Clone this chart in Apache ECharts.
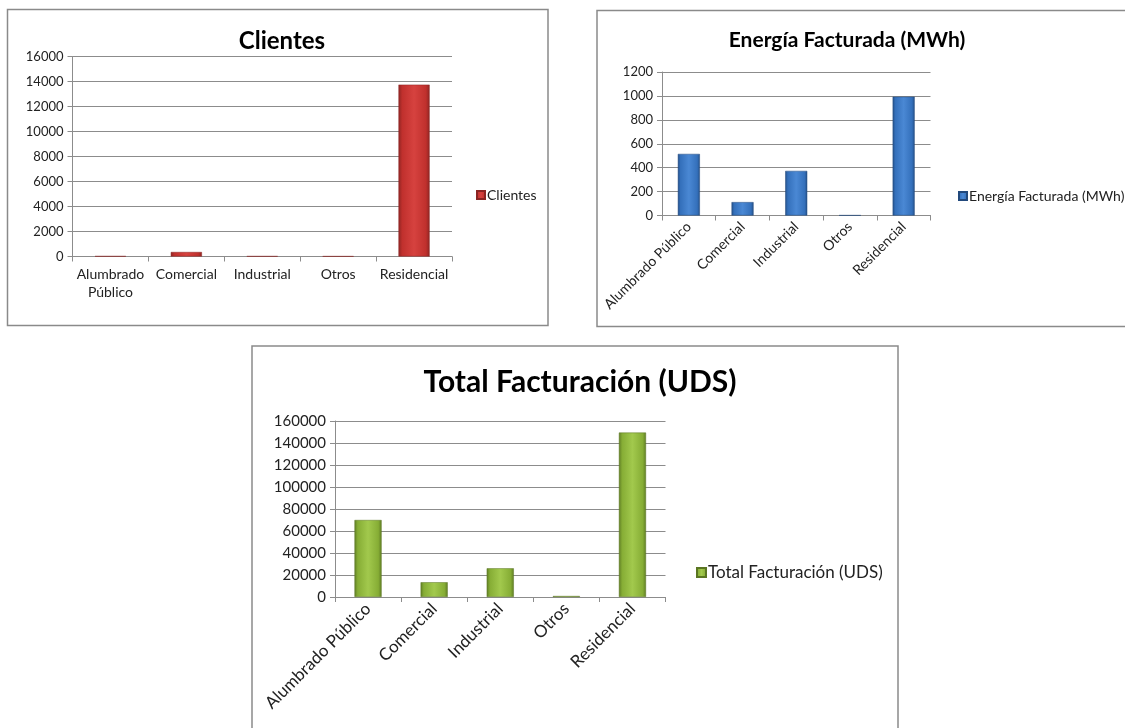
<!DOCTYPE html>
<html>
<head>
<meta charset="utf-8">
<script src="https://cdn.jsdelivr.net/npm/echarts@6/dist/echarts.min.js"></script>
<style>
html,body{margin:0;padding:0;background:#fff;}
#c{width:1125px;height:728px;}
</style>
</head>
<body>
<div id="c"></div>
<script>
const categories = ["Alumbrado Público", "Comercial", "Industrial", "Otros", "Residencial"];
const clientes = [30, 360, 25, 20, 13750];
const energia = [515, 112, 373, 2, 994];
const facturacion = [70000, 13400, 26100, 900, 149500];
const names = ["Clientes", "Energía Facturada (MWh)", "Total Facturación (UDS)"];

const FONT = "Lato, 'Noto Sans', sans-serif";
const GRID = '#8c8c8c';

function grad(dark, mid, light) {
  return new echarts.graphic.LinearGradient(0, 0, 1, 0, [
    {offset: 0, color: dark},
    {offset: 0.12, color: mid},
    {offset: 0.5, color: light},
    {offset: 0.88, color: mid},
    {offset: 1, color: dark}
  ]);
}
const red = grad('#8f2523', '#c0302d', '#d6423f');
const blue = grad('#244f86', '#3470bb', '#4a88d4');
const green = grad('#5f7d24', '#86ad35', '#a2c94d');

function xAxis(idx, fs, rot, fmt) {
  return {
    type: 'category', gridIndex: idx, data: categories,
    axisLine: {lineStyle: {color: GRID, width: 1}},
    axisTick: {show: true, length: 5, alignWithLabel: false, lineStyle: {color: GRID}},
    axisLabel: {interval: 0, rotate: rot, fontFamily: FONT, fontSize: fs, color: '#222', margin: 9, lineHeight: fs + 4, formatter: fmt}
  };
}
function yAxis(idx, max, step, fs) {
  return {
    type: 'value', gridIndex: idx, min: 0, max: max, interval: step,
    axisLine: {show: true, lineStyle: {color: GRID, width: 1}},
    axisTick: {show: true, length: 5, lineStyle: {color: GRID}},
    splitLine: {lineStyle: {color: GRID, width: 1}},
    axisLabel: {fontFamily: FONT, fontSize: fs, color: '#222', margin: 9, formatter: v => String(v)}
  };
}

const chart = echarts.init(document.getElementById('c'), null, {renderer: 'canvas'});
chart.setOption({
  animation: false,
  backgroundColor: '#fff',
  graphic: [
    {type: 'rect', shape: {x: 7.5, y: 9.5, width: 540.5, height: 316}, style: {fill: 'none', stroke: '#8a8a8a', lineWidth: 1.5}, z: -1},
    {type: 'rect', shape: {x: 597, y: 10.5, width: 560, height: 316}, style: {fill: 'none', stroke: '#8a8a8a', lineWidth: 1.5}, z: -1},
    {type: 'rect', shape: {x: 252, y: 346, width: 646, height: 420}, style: {fill: 'none', stroke: '#8a8a8a', lineWidth: 1.5}, z: -1}
  ],
  title: [
    {text: names[0], left: 277, top: 24, textAlign: 'center', textStyle: {fontFamily: FONT, fontWeight: 'bold', fontSize: 24, color: '#000'}},
    {text: names[1], left: 842, top: 25, textAlign: 'center', textStyle: {fontFamily: FONT, fontWeight: 'bold', fontSize: 21, color: '#000'}},
    {text: names[2], left: 575, top: 362, textAlign: 'center', textStyle: {fontFamily: FONT, fontWeight: 'bold', fontSize: 30, color: '#000'}}
  ],
  legend: [
    {data: [names[0]], left: 471, top: 183, icon: 'rect', itemWidth: 8, itemHeight: 8, textStyle: {fontFamily: FONT, fontSize: 14, color: '#222', padding: [0,0,0,-3]}},
    {data: [names[1]], left: 953, top: 184, icon: 'rect', itemWidth: 8, itemHeight: 8, textStyle: {fontFamily: FONT, fontSize: 14, color: '#222', padding: [0,0,0,-3]}},
    {data: [names[2]], left: 691, top: 559, icon: 'rect', itemWidth: 9, itemHeight: 9, textStyle: {fontFamily: FONT, fontSize: 17, color: '#222', padding: [0,0,0,-3]}}
  ],
  grid: [
    {left: 72.5, top: 56.5, width: 379.5, height: 200},
    {left: 662, top: 72, width: 268.5, height: 143.5},
    {left: 335, top: 421, width: 330.5, height: 176}
  ],
  xAxis: [
    xAxis(0, 14, 0, v => v.replace(' ', '\n')),
    xAxis(1, 14, 45),
    xAxis(2, 17, 45)
  ],
  yAxis: [
    yAxis(0, 16000, 2000, 13),
    yAxis(1, 1200, 200, 13),
    yAxis(2, 160000, 20000, 15)
  ],
  series: [
    {name: names[0], type: 'bar', xAxisIndex: 0, yAxisIndex: 0, data: clientes, barWidth: '41%',
     itemStyle: {color: red, borderColor: '#8a2422', borderWidth: 0.5}},
    {name: names[1], type: 'bar', xAxisIndex: 1, yAxisIndex: 1, data: energia, barWidth: '41%',
     itemStyle: {color: blue, borderColor: '#22497c', borderWidth: 0.5}},
    {name: names[2], type: 'bar', xAxisIndex: 2, yAxisIndex: 2, data: facturacion, barWidth: '41%',
     itemStyle: {color: green, borderColor: '#5a7522', borderWidth: 0.5}}
  ]
});
</script>
</body>
</html>
